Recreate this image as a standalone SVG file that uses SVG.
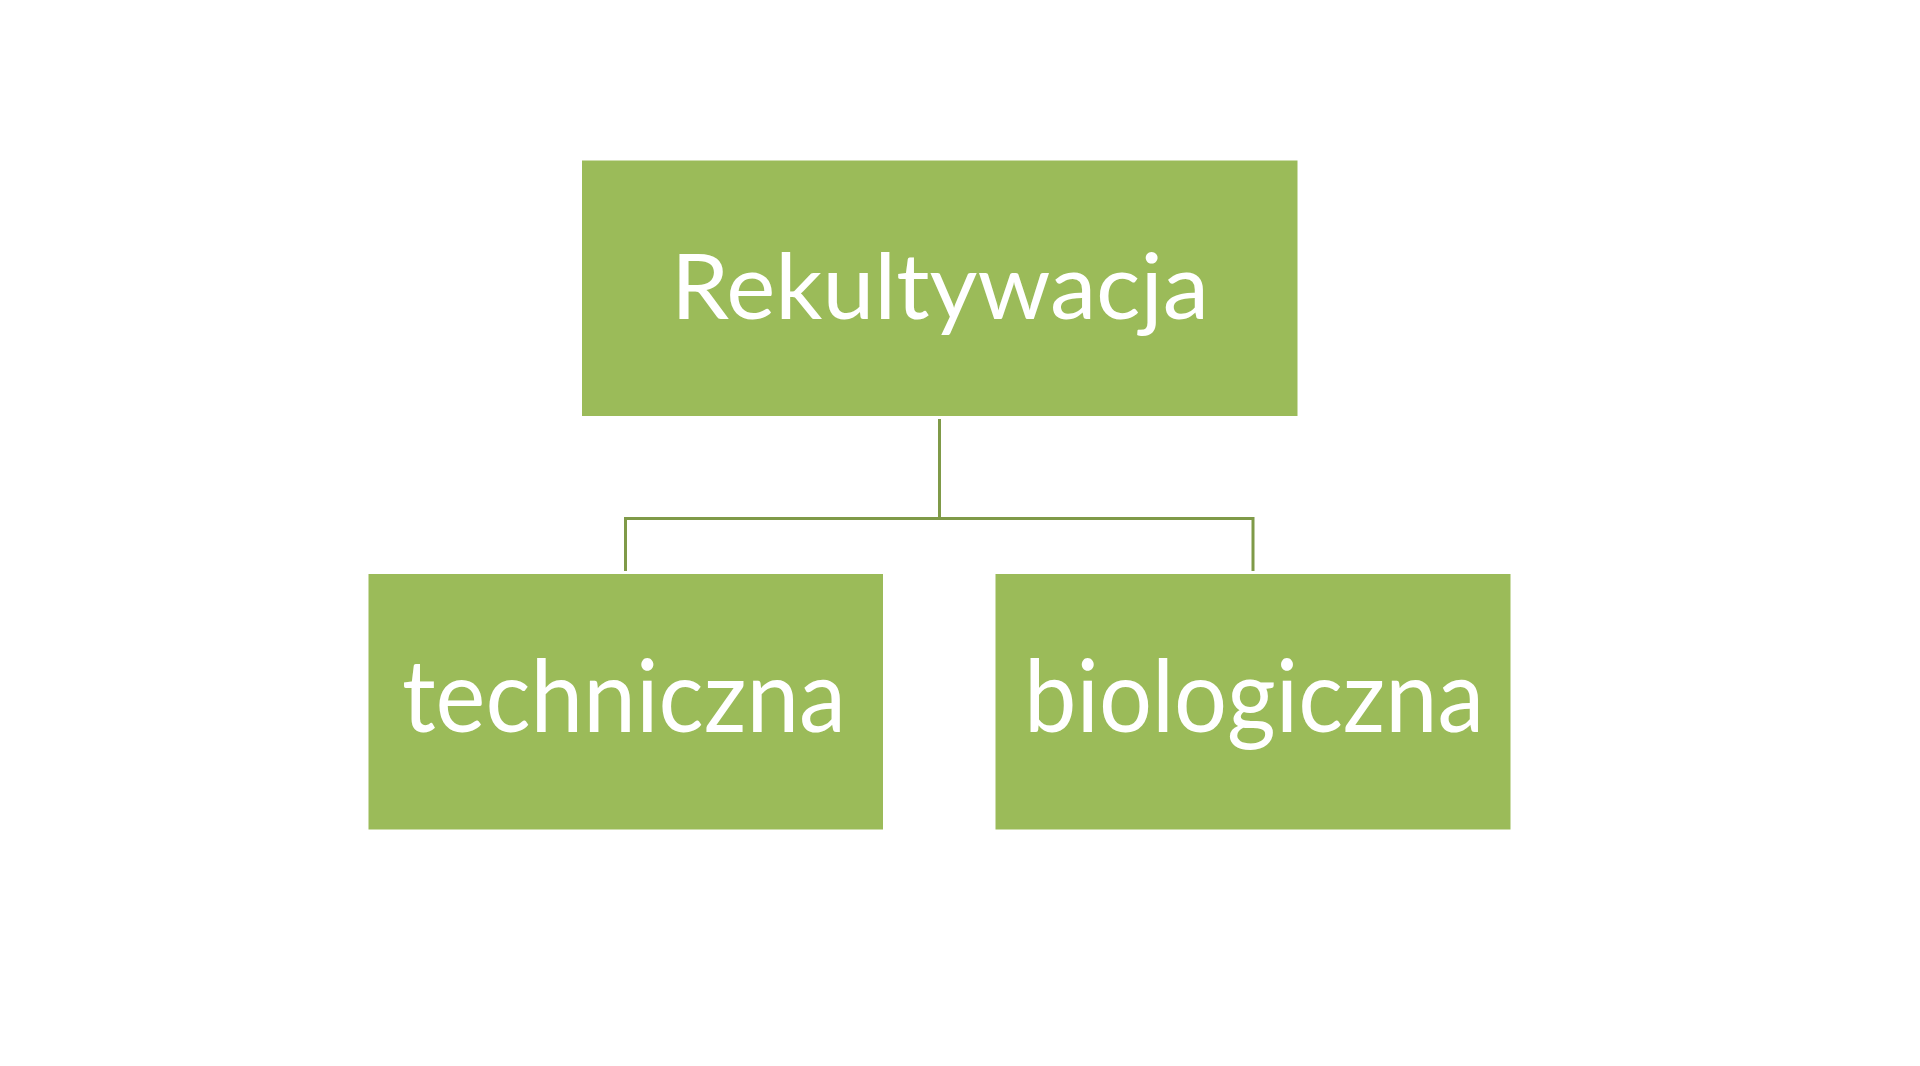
<svg xmlns="http://www.w3.org/2000/svg" width="1920" height="1066" viewBox="0 0 1920 1066">
<style>
.box{fill:#9BBB59}
.lbl{fill:#FFFFFF;font-family:Lato,"Open Sans","Liberation Sans",sans-serif;text-anchor:middle}
.con{fill:none;stroke:#7F9A48;stroke-width:3;stroke-linejoin:miter;stroke-linecap:butt}
</style>
<rect width="1920" height="1066" fill="#FFFFFF"/>
<g id="connectors">
<path class="con" d="M939.5 419 V518.5"/>
<path class="con" d="M625.5 571 V518.5 H1253 V571"/>
</g>
<g id="node-rekultywacja">
<rect class="box" x="582" y="160.5" width="715.5" height="255.5"/>
<text class="lbl" x="940" y="318.5" font-size="91" textLength="538" lengthAdjust="spacingAndGlyphs">Rekultywacja</text>
</g>
<g id="node-techniczna">
<rect class="box" x="368.5" y="574" width="514.5" height="255.5"/>
<text class="lbl" x="624" y="731.5" font-size="100" textLength="444" lengthAdjust="spacingAndGlyphs">techniczna</text>
</g>
<g id="node-biologiczna">
<rect class="box" x="995.5" y="574" width="515" height="255.5"/>
<text class="lbl" x="1254" y="731.5" font-size="100" textLength="460" lengthAdjust="spacingAndGlyphs">biologiczna</text>
</g>
</svg>
